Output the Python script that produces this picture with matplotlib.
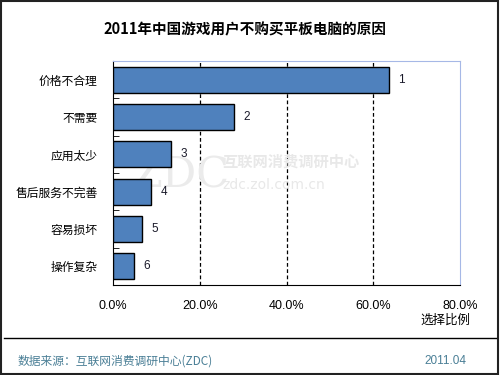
import matplotlib
matplotlib.use("Agg")
import matplotlib.pyplot as plt
from matplotlib.lines import Line2D
from matplotlib.patches import Rectangle

plt.rcParams['font.family'] = ['Noto Sans CJK SC', 'DejaVu Sans']

categories = ["价格不合理", "不需要", "应用太少", "售后服务不完善", "容易损坏", "操作复杂"]
values = [63.6, 27.8, 13.3, 8.7, 6.6, 4.8]
ranks = ["1", "2", "3", "4", "5", "6"]
xticks = [0, 20, 40, 60, 80]
xtick_labels = ["0.0%", "20.0%", "40.0%", "60.0%", "80.0%"]

fig = plt.figure(figsize=(5, 3.75), dpi=100)
ax = fig.add_axes([0.226, 0.24, 0.694, 0.597])

ypos = list(range(len(categories)))
ax.barh(ypos, values, height=0.7, color="#4f81bd", edgecolor="black", linewidth=1.0, zorder=3)
for y, v, r in zip(ypos, values, ranks):
    ax.text(v + 2.2, y, r, va="center", ha="left", fontsize=8.5, color="#1a1a2a",
            family="Liberation Sans", zorder=4)

ax.set_xlim(0, 80)
ax.set_ylim(len(categories) - 0.5, -0.5)
ax.set_yticks(ypos)
ax.set_yticklabels(categories, fontsize=8.5)
ax.set_yticks([y + 0.5 for y in [-1] + ypos], minor=True)
ax.tick_params(axis="y", which="major", length=0, pad=11)
ax.tick_params(axis="y", which="minor", length=4, direction="in", color="black")
ax.set_xticks(xticks)
ax.set_xticklabels(xtick_labels, fontsize=9, family="Liberation Sans")
ax.tick_params(axis="x", length=0, pad=11)

for g in xticks[1:-1]:
    ax.axvline(g, color="black", linestyle=(0, (3, 2)), linewidth=0.9, zorder=1)

ax.spines["left"].set_color("black")
ax.spines["bottom"].set_color("black")
ax.spines["top"].set_color("#a6b8e6")
ax.spines["right"].set_color("#a6b8e6")

ax.text(1.03, -0.13, "选择比例", transform=ax.transAxes, ha="right", va="top", fontsize=9)

# watermark
ax.text(0.055, 0.49, "ZDC", transform=ax.transAxes, fontsize=31, color="#ebebeb",
        family="DejaVu Serif", va="center", zorder=2)
ax.text(0.315, 0.55, "互联网消费调研中心", transform=ax.transAxes, fontsize=11,
        color="#e8e8e8", weight="bold", va="center", zorder=2)
ax.text(0.315, 0.446, "zdc.zol.com.cn", transform=ax.transAxes, fontsize=10,
        color="#e8e8e8", family="DejaVu Sans", va="center", zorder=2)

fig.text(0.49, 0.922, "2011年中国游戏用户不购买平板电脑的原因", ha="center", va="center",
         fontsize=10.5, weight="bold")

fig.add_artist(Line2D([0.008, 0.992], [0.0987, 0.0987], color="black", linewidth=1.0,
                      transform=fig.transFigure))
fig.add_artist(Rectangle((0.002, 0.003), 0.994, 0.994, transform=fig.transFigure,
                         fill=False, edgecolor="#222222", linewidth=1.5))

fig.text(0.035, 0.037, "数据来源：互联网消费调研中心(ZDC)", ha="left", va="center",
         fontsize=8.5, color="#4a7f96")
fig.text(0.932, 0.037, "2011.04", ha="right", va="center", fontsize=8.5,
         color="#4a7f96", family="Liberation Sans")

fig.savefig("out.png", dpi=100)
